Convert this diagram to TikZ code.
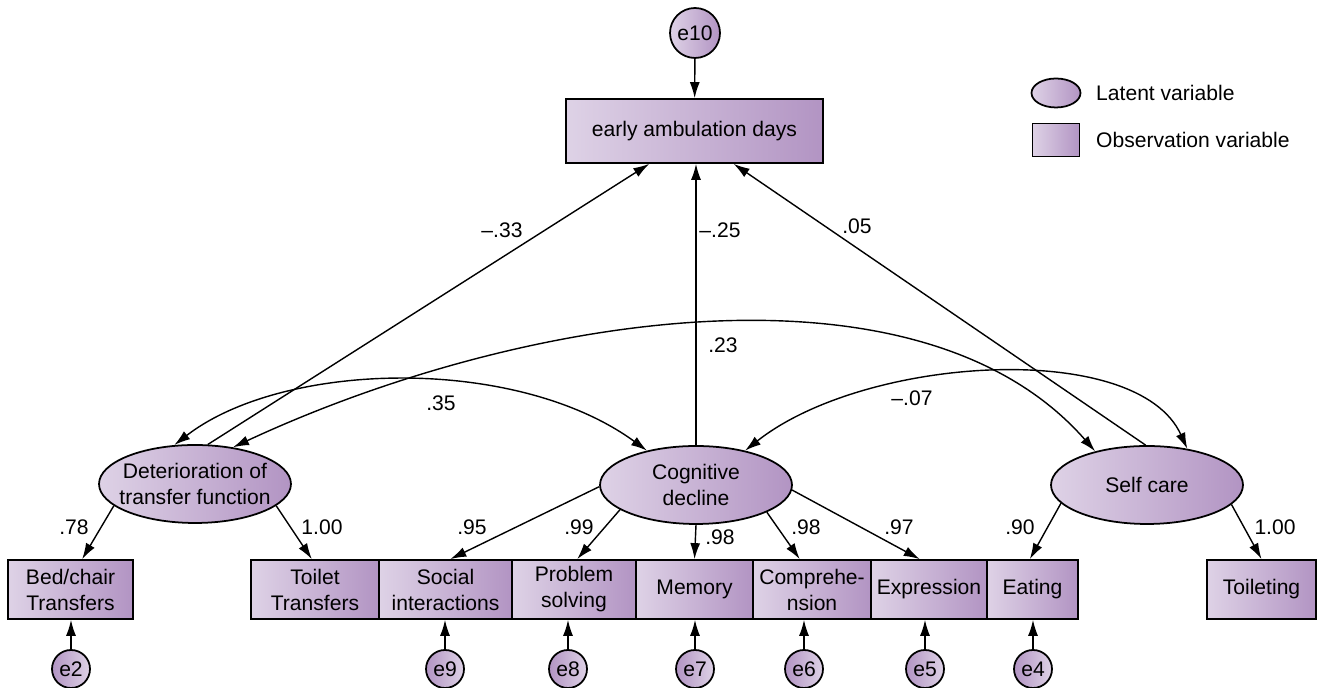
\documentclass[tikz,border=0pt]{standalone}
\usepackage{fontspec}
\setmainfont{Liberation Sans}
\usetikzlibrary{shapes.geometric,arrows.meta}
\definecolor{lavlight}{RGB}{222,210,230}
\definecolor{lavdark}{RGB}{178,148,195}

\begin{document}
\begin{tikzpicture}[x=0.02cm,y=0.02cm,
    font=\fontsize{12}{14.8}\selectfont,
    >={Latex[length=0.32cm,width=0.2cm]},
    latent/.style={ellipse,draw,line width=1pt,left color=lavlight,right color=lavdark,
      minimum width=3.84cm,minimum height=1.56cm,inner xsep=-0.4cm,inner ysep=0pt,align=center},
    obs/.style={rectangle,draw,line width=1pt,left color=lavlight,right color=lavdark,
      minimum height=1.18cm,inner sep=0pt,align=center},
    err/.style={circle,draw,line width=1pt,left color=lavdark,right color=lavlight,
      minimum size=0.76cm,inner sep=0pt},
    reg/.style={->,line width=0.8pt},
    cov/.style={<->,line width=0.8pt}]
    \useasboundingbox (0,0) rectangle (1318,688);

    % outcome
    \node[err,left color=lavlight,right color=lavdark,minimum size=1cm] (e10) at (695,655) {e10};
    \node[obs,minimum width=5.14cm,minimum height=1.28cm] (ead) at (694.5,557) {early ambulation days};

    % legend
    \node[latent,minimum width=0.98cm,minimum height=0.58cm] (leglat) at (1056,595) {};
    \node[anchor=west] (leglattxt) at (1090,595) {Latent variable};
    \node[obs,minimum width=0.94cm,minimum height=0.66cm] (legobs) at (1056,548) {};
    \node[anchor=west] (legobstxt) at (1090,548) {Observation variable};

    % latent variables
    \node[latent] (det) at (195,204) {Deterioration of\\transfer function};
    \node[latent] (cog) at (696,203) {Cognitive\\decline};
    \node[latent] (self) at (1147,203) {Self care};

    % observed variables
    \node[obs,minimum width=2.5cm] (bed) at (70.5,98.5) {Bed/chair\\Transfers};
    \node[obs,minimum width=2.56cm] (toilet) at (315,98.5) {Toilet\\Transfers};
    \node[obs,minimum width=2.66cm] (social) at (445.5,98.5) {Social\\interactions};
    \node[obs,minimum width=2.48cm] (problem) at (574,98.5) {Problem\\solving};
    \node[obs,minimum width=2.34cm] (memory) at (694.5,98.5) {Memory};
    \node[obs,minimum width=2.36cm] (compre) at (812,98.5) {Comprehe-\\nsion};
    \node[obs,minimum width=2.32cm] (express) at (929,98.5) {Expression};
    \node[obs,minimum width=1.82cm] (eating) at (1032.5,98.5) {Eating};
    \node[obs,minimum width=2.18cm] (toileting) at (1261.5,98.5) {Toileting};

    % errors
    \node[err] (e2) at (71,19) {e2};
    \node[err] (e9) at (445,19) {e9};
    \node[err] (e8) at (568,19) {e8};
    \node[err] (e7) at (695,19) {e7};
    \node[err] (e6) at (804,19) {e6};
    \node[err] (e5) at (925,19) {e5};
    \node[err] (e4) at (1033,19) {e4};

    \draw[reg] (e10) -- (ead);
    \draw[reg] (e2) -- (e2 |- bed.south);
    \draw[reg] (e9) -- (e9 |- social.south);
    \draw[reg] (e8) -- (e8 |- problem.south);
    \draw[reg] (e7) -- (e7 |- memory.south);
    \draw[reg] (e6) -- (e6 |- compre.south);
    \draw[reg] (e5) -- (e5 |- express.south);
    \draw[reg] (e4) -- (e4 |- eating.south);

    % loadings
    \draw[reg] (det.195) -- (bed.69);
    \draw[reg] (det.345) -- (toilet.96);
    \draw[reg] (cog.181) -- (social.81);
    \draw[reg] (cog.198) -- (problem.84);
    \draw[reg] (cog.south) -- (memory.north);
    \draw[reg] (cog.339) -- (compre.112);
    \draw[reg] (cog.357) -- (express.107);
    \draw[reg] (self.192) -- (eating.95);
    \draw[reg] (self.347) -- (toileting.north);

    % paths to early ambulation days
    \draw[reg] (det.72) -- (ead.216);
    \draw[reg] (cog.north) -- (cog.north |- ead.south);
    \draw[reg] (self.92) -- (ead.320);

    % covariances
    \draw[cov] (det.118) .. controls +(110,85) and +(-130,95) .. (cog.145);
    \draw[cov] (det.44) .. controls +(290,135) and +(-175,200) .. (self.147);
    \draw[cov] (cog.35) .. controls +(120,95) and +(-50,110) .. (self.42);

    % coefficients
    \node (c78) at (74,161) {.78};
    \node (c100a) at (322,161) {1.00};
    \node (c95) at (472,161) {.95};
    \node (c99) at (579,161) {.99};
    \node (c98a) at (720,151) {.98};
    \node (c98b) at (806,161) {.98};
    \node (c97) at (899,161) {.97};
    \node (c90) at (1020,161) {.90};
    \node (c100b) at (1275,161) {1.00};
    \node (r33) at (502,458) {--.33};
    \node (r25) at (720,458) {--.25};
    \node (r05) at (857,462) {.05};
    \node (v23) at (723,343) {.23};
    \node (v35) at (441,285) {.35};
    \node (v07) at (912,290) {--.07};
\end{tikzpicture}
\end{document}
